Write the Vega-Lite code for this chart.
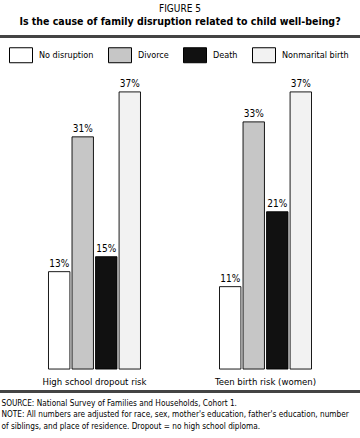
{
  "$schema": "https://vega.github.io/schema/vega-lite/v6.json",
  "width": 360,
  "height": 358,
  "autosize": {"type": "none"},
  "padding": {"left": 0, "right": 0, "top": 35, "bottom": 45},
  "background": "white",
  "config": {"view": {"stroke": null}, "font": "'DejaVu Sans Condensed', 'Liberation Sans'"},
  "title": {
    "text": "FIGURE 5",
    "subtitle": "Is the cause of family disruption related to child well-being?",
    "anchor": "middle",
    "fontSize": 10,
    "fontWeight": "normal",
    "color": "black",
    "subtitleFontSize": 10.5,
    "subtitleFontWeight": "bold",
    "subtitleColor": "black",
    "subtitlePadding": 3,
    "offset": 8
  },
  "data": {
    "values": [
      {"outcome": "High school dropout risk", "cause": "No disruption", "value": 0.13},
      {"outcome": "High school dropout risk", "cause": "Divorce", "value": 0.31},
      {"outcome": "High school dropout risk", "cause": "Death", "value": 0.15},
      {"outcome": "High school dropout risk", "cause": "Nonmarital birth", "value": 0.37},
      {"outcome": "Teen birth risk (women)", "cause": "No disruption", "value": 0.11},
      {"outcome": "Teen birth risk (women)", "cause": "Divorce", "value": 0.33},
      {"outcome": "Teen birth risk (women)", "cause": "Death", "value": 0.21},
      {"outcome": "Teen birth risk (women)", "cause": "Nonmarital birth", "value": 0.37}
    ]
  },
  "resolve": {"scale": {"x": "independent"}},
  "layer": [
    {
      "layer": [
        {
          "mark": {"type": "bar", "stroke": "black", "strokeWidth": 0.9},
          "encoding": {
            "x": {
              "field": "outcome",
              "type": "nominal",
              "sort": ["High school dropout risk", "Teen birth risk (women)"],
              "scale": {"paddingInner": 0.462, "paddingOuter": 0.2836},
              "axis": {
                "orient": "bottom",
                "offset": -24,
                "domain": false,
                "ticks": false,
                "labelAngle": 0,
                "labelPadding": 7,
                "labelFontSize": 9.5,
                "labelColor": "black",
                "title": [
                  "SOURCE: National Survey of Families and Households, Cohort 1.",
                  "NOTE: All numbers are adjusted for race, sex, mother's education, father's education, number",
                  "of siblings, and place of residence. Dropout = no high school diploma."
                ],
                "titleFontSize": 8.2,
                "titleFontWeight": "normal",
                "titleColor": "black",
                "titleAnchor": "start",
                "titleAlign": "left",
                "titleBaseline": "top",
                "titleX": 1,
                "titleY": 30,
                "titleLineHeight": 11.5
              }
            },
            "xOffset": {
              "field": "cause",
              "type": "nominal",
              "sort": ["No disruption", "Divorce", "Death", "Nonmarital birth"],
              "scale": {"paddingInner": 0.09, "paddingOuter": 0}
            },
            "y": {
              "field": "value",
              "type": "quantitative",
              "scale": {"domain": [-0.032, 0.446], "nice": false, "zero": false},
              "axis": null
            },
            "fill": {
              "field": "cause",
              "type": "nominal",
              "scale": {
                "domain": ["No disruption", "Divorce", "Death", "Nonmarital birth"],
                "range": ["#ffffff", "#c6c6c6", "#111111", "#f2f2f2"]
              },
              "legend": {
                "orient": "none",
                "legendX": 9,
                "legendY": 8,
                "direction": "horizontal",
                "title": null,
                "symbolType": "M-1,-0.652H1V0.652H-1Z",
                "symbolSize": 529,
                "symbolStrokeColor": "black",
                "symbolStrokeWidth": 1,
                "symbolOpacity": 1,
                "labelFontSize": 9,
                "labelColor": "black",
                "labelOffset": 6,
                "columnPadding": 12
              }
            }
          }
        },
        {
          "mark": {"type": "text", "baseline": "bottom", "dy": -3, "fontSize": 10, "color": "black"},
          "encoding": {
            "x": {"field": "outcome", "type": "nominal", "sort": ["High school dropout risk", "Teen birth risk (women)"]},
            "xOffset": {"field": "cause", "type": "nominal", "sort": ["No disruption", "Divorce", "Death", "Nonmarital birth"]},
            "y": {"field": "value", "type": "quantitative"},
            "text": {"field": "value", "type": "quantitative", "format": ".0%"}
          }
        }
      ]
    },
    {
      "data": {"values": [{"edge": "top"}]},
      "mark": {"type": "rect", "color": "#444"},
      "encoding": {
        "y": {"datum": 0.446, "type": "quantitative"},
        "y2": {"datum": 0.442}
      }
    },
    {
      "data": {"values": [{"edge": "bottom"}]},
      "mark": {"type": "rect", "color": "#444"},
      "encoding": {
        "y": {"datum": -0.028, "type": "quantitative"},
        "y2": {"datum": -0.032}
      }
    }
  ]
}
